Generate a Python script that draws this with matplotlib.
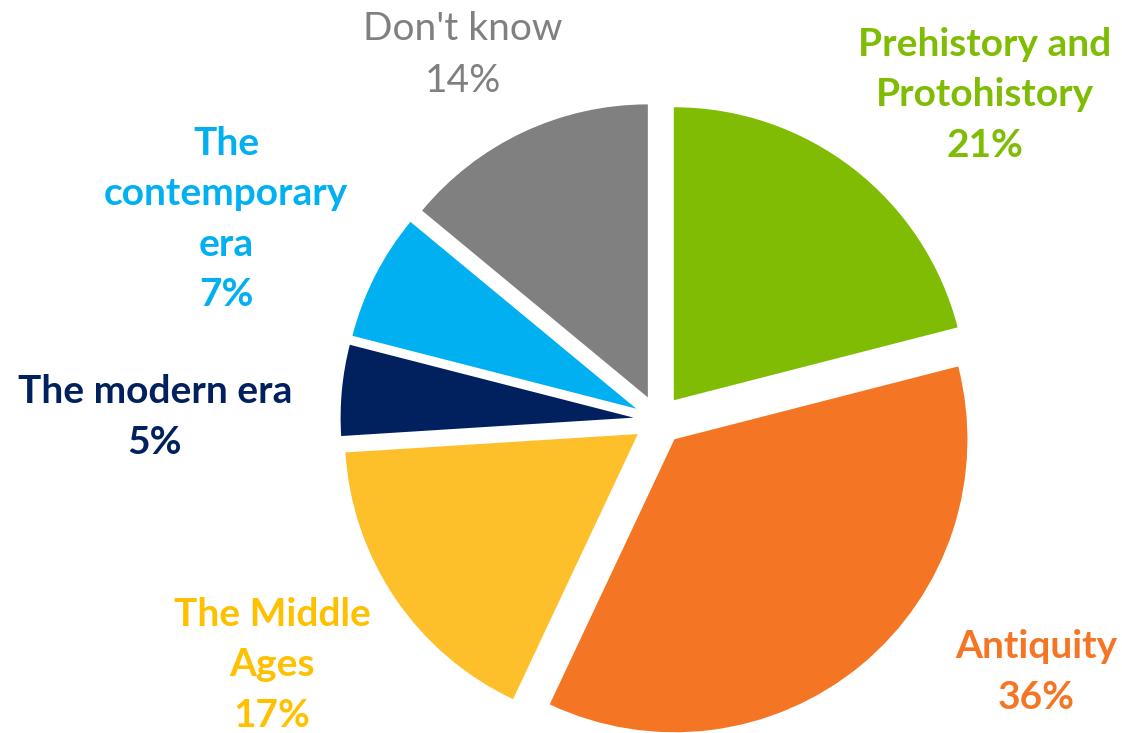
import matplotlib.pyplot as plt

labels = ["Prehistory and\nProtohistory", "Antiquity", "The Middle\nAges",
          "The modern era", "The\ncontemporary\nera", "Don't know"]
shares = [21, 36, 17, 5, 7, 14]

slice_colors = ["#7FBC03", "#F47624", "#FDC02A", "#00205E", "#00B0F0", "#808080"]
text_colors = ["#7FBC03", "#F47624", "#FFC000", "#00205E", "#00B0F0", "#808080"]
bold = [True, True, True, True, True, False]
# label block centres in pixel coords (x, y from bottom)
label_pos = [(985, 638), (1036, 61), (272, 68), (155, 316), (226, 514), (463, 678)]

plt.rcParams['font.family'] = ['Lato', 'DejaVu Sans']

fig = plt.figure(figsize=(11.22, 7.33), dpi=100)
ax = fig.add_axes([0, 0, 1, 1])

# explode is in data units here (pixels)
ax.pie(shares, colors=slice_colors, startangle=90, counterclock=False,
       radius=293, center=(658.5, 313), explode=[25] * len(shares),
       wedgeprops=dict(linewidth=0), frame=True)
ax.set_xlim(0, 1122)
ax.set_ylim(0, 733)
ax.set_aspect('equal')
ax.set_axis_off()

for lab, v, col, b, (x, y) in zip(labels, shares, text_colors, bold, label_pos):
    ax.text(x, y, f"{lab}\n{v}%", color=col, ha='center', va='center',
            fontsize=28, fontweight='bold' if b else 'normal',
            linespacing=1.52, multialignment='center')

fig.savefig("out.png", dpi=100)
